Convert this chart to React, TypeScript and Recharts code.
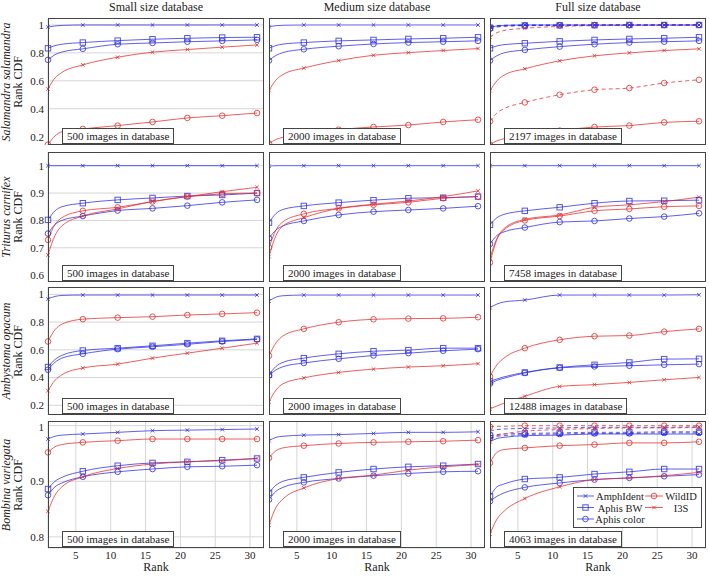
import React from "react";
import { LineChart, Line, XAxis, YAxis, CartesianGrid } from "recharts";

// ---------- data ----------
const ranks = [1, 2, 3, 6, 11, 16, 21, 26, 31];
const markerRanks = [1, 6, 11, 16, 21, 26, 31];
const rankTicks = [5, 10, 15, 20, 25, 30];
const columnTitles = ["Small size database", "Medium size database", "Full size database"];
const speciesNames = ["Salamandra salamandra", "Triturus carnifex", "Ambystoma opacum", "Bombina variegata"];
const dbSizes = [
  [500, 2000, 2197],
  [500, 2000, 7458],
  [500, 2000, 12488],
  [500, 2000, 4063],
];
const yTicksSal = [0.2, 0.4, 0.6, 0.8, 1];
const yTicksTri = [0.6, 0.7, 0.8, 0.9, 1];
const yTicksAmb = [0.2, 0.4, 0.6, 0.8, 1];
const yTicksBom = [0.8, 0.9, 1];

// Salamandra salamandra
const salSmallAmph = [0.985, 0.993, 0.997, 1, 1, 1, 1, 1, 1];
const salSmallBw = [0.833, 0.852, 0.862, 0.874, 0.888, 0.898, 0.905, 0.91, 0.912];
const salSmallCol = [0.75, 0.787, 0.806, 0.829, 0.862, 0.871, 0.88, 0.886, 0.893];
const salSmallWild = [0.143, 0.205, 0.235, 0.255, 0.279, 0.305, 0.334, 0.35, 0.369];
const salSmallI3s = [0.541, 0.62, 0.66, 0.714, 0.769, 0.805, 0.824, 0.841, 0.857];

const salMedAmph = [0.988, 0.995, 0.998, 1, 1, 1, 1, 1, 1];
const salMedBw = [0.833, 0.853, 0.863, 0.874, 0.886, 0.893, 0.9, 0.905, 0.912];
const salMedCol = [0.745, 0.782, 0.802, 0.826, 0.848, 0.864, 0.874, 0.88, 0.886];
const salMedWild = [0.15, 0.18, 0.195, 0.215, 0.25, 0.269, 0.283, 0.305, 0.321];
const salMedI3s = [0.531, 0.605, 0.645, 0.691, 0.745, 0.783, 0.802, 0.817, 0.831];

const salFullAmph = [0.985, 0.993, 0.997, 1, 1, 1, 1, 1, 1];
const salFullBw = [0.833, 0.85, 0.859, 0.869, 0.883, 0.893, 0.9, 0.905, 0.912];
const salFullCol = [0.745, 0.78, 0.8, 0.821, 0.845, 0.862, 0.874, 0.88, 0.886];
const salFullWild = [0.143, 0.17, 0.185, 0.205, 0.243, 0.269, 0.279, 0.302, 0.31];
const salFullI3s = [0.529, 0.6, 0.64, 0.686, 0.743, 0.779, 0.8, 0.817, 0.829];
const salFullAmphD = [0.99, 0.996, 0.998, 1, 1, 1, 1, 1, 1];
const salFullBwD = [0.98, 0.99, 0.994, 0.997, 0.998, 0.999, 1, 1, 1];
const salFullColD = [0.972, 0.985, 0.99, 0.995, 0.997, 0.998, 0.999, 0.999, 1];
const salFullWildD = [0.31, 0.37, 0.4, 0.445, 0.5, 0.536, 0.548, 0.584, 0.607];
const salFullI3sD = [0.912, 0.945, 0.96, 0.976, 0.99, 0.995, 0.997, 0.998, 0.999];

// Triturus carnifex
const triSmallAmph = [1, 1, 1, 1, 1, 1, 1, 1, 1];
const triSmallBw = [0.802, 0.835, 0.85, 0.863, 0.875, 0.882, 0.889, 0.893, 0.9];
const triSmallCol = [0.752, 0.785, 0.8, 0.816, 0.836, 0.844, 0.854, 0.866, 0.875];
const triSmallWild = [0.729, 0.785, 0.81, 0.835, 0.848, 0.869, 0.887, 0.897, 0.9];
const triSmallI3s = [0.674, 0.745, 0.78, 0.816, 0.842, 0.869, 0.887, 0.905, 0.921];

const triMedAmph = [0.998, 1, 1, 1, 1, 1, 1, 1, 1];
const triMedBw = [0.792, 0.825, 0.84, 0.853, 0.865, 0.874, 0.881, 0.883, 0.887];
const triMedCol = [0.735, 0.765, 0.78, 0.798, 0.82, 0.832, 0.838, 0.844, 0.852];
const triMedWild = [0.701, 0.765, 0.795, 0.824, 0.844, 0.857, 0.866, 0.881, 0.887];
const triMedI3s = [0.668, 0.745, 0.78, 0.81, 0.844, 0.859, 0.871, 0.887, 0.908];

const triFullAmph = [1, 1, 1, 1, 1, 1, 1, 1, 1];
const triFullBw = [0.784, 0.81, 0.822, 0.835, 0.848, 0.863, 0.871, 0.872, 0.874];
const triFullCol = [0.714, 0.745, 0.758, 0.774, 0.794, 0.798, 0.807, 0.814, 0.826];
const triFullWild = [0.646, 0.73, 0.765, 0.8, 0.816, 0.835, 0.842, 0.85, 0.853];
const triFullI3s = [0.662, 0.735, 0.77, 0.804, 0.82, 0.848, 0.857, 0.869, 0.885];

// Ambystoma opacum
const ambSmallAmph = [0.967, 0.985, 0.992, 0.995, 0.995, 0.995, 0.995, 0.995, 0.995];
const ambSmallBw = [0.476, 0.53, 0.56, 0.595, 0.612, 0.629, 0.648, 0.665, 0.679];
const ambSmallCol = [0.456, 0.51, 0.54, 0.571, 0.605, 0.622, 0.64, 0.66, 0.675];
const ambSmallWild = [0.66, 0.745, 0.785, 0.821, 0.832, 0.839, 0.851, 0.859, 0.868];
const ambSmallI3s = [0.305, 0.38, 0.42, 0.469, 0.497, 0.54, 0.576, 0.612, 0.648];

const ambMedAmph = [0.952, 0.98, 0.99, 0.995, 0.995, 0.995, 0.995, 0.995, 0.995];
const ambMedBw = [0.42, 0.48, 0.51, 0.54, 0.571, 0.59, 0.598, 0.612, 0.612];
const ambMedCol = [0.415, 0.455, 0.478, 0.505, 0.535, 0.559, 0.576, 0.593, 0.605];
const ambMedWild = [0.557, 0.65, 0.7, 0.751, 0.799, 0.82, 0.825, 0.827, 0.835];
const ambMedI3s = [0.224, 0.31, 0.355, 0.397, 0.437, 0.461, 0.476, 0.485, 0.5];

const ambFullAmph = [0.904, 0.93, 0.945, 0.959, 0.995, 0.995, 0.995, 0.995, 0.997];
const ambFullBw = [0.372, 0.39, 0.405, 0.437, 0.473, 0.492, 0.509, 0.533, 0.535];
const ambFullCol = [0.356, 0.38, 0.395, 0.433, 0.47, 0.48, 0.485, 0.492, 0.497];
const ambFullWild = [0.408, 0.492, 0.54, 0.612, 0.672, 0.698, 0.703, 0.731, 0.751];
const ambFullI3s = [0.174, 0.195, 0.215, 0.265, 0.336, 0.349, 0.365, 0.384, 0.401];

// Bombina variegata
const bomSmallAmph = [0.976, 0.981, 0.983, 0.985, 0.988, 0.991, 0.992, 0.993, 0.994];
const bomSmallBw = [0.886, 0.9, 0.907, 0.918, 0.928, 0.933, 0.935, 0.938, 0.941];
const bomSmallCol = [0.875, 0.89, 0.897, 0.908, 0.917, 0.922, 0.926, 0.927, 0.929];
const bomSmallWild = [0.952, 0.962, 0.966, 0.97, 0.973, 0.976, 0.976, 0.976, 0.976];
const bomSmallI3s = [0.846, 0.875, 0.89, 0.908, 0.923, 0.931, 0.935, 0.937, 0.941];

const bomMedAmph = [0.973, 0.979, 0.981, 0.983, 0.984, 0.986, 0.988, 0.988, 0.989];
const bomMedBw = [0.879, 0.893, 0.9, 0.907, 0.916, 0.922, 0.926, 0.928, 0.931];
const bomMedCol = [0.867, 0.882, 0.889, 0.898, 0.905, 0.91, 0.914, 0.917, 0.918];
const bomMedWild = [0.942, 0.955, 0.96, 0.964, 0.968, 0.97, 0.971, 0.972, 0.974];
const bomMedI3s = [0.821, 0.853, 0.868, 0.888, 0.905, 0.911, 0.92, 0.926, 0.93];

const bomFullAmph = [0.971, 0.977, 0.979, 0.982, 0.983, 0.985, 0.985, 0.985, 0.985];
const bomFullBw = [0.873, 0.89, 0.895, 0.904, 0.907, 0.913, 0.917, 0.922, 0.922];
const bomFullCol = [0.864, 0.873, 0.879, 0.889, 0.897, 0.903, 0.906, 0.909, 0.912];
const bomFullWild = [0.933, 0.952, 0.957, 0.96, 0.964, 0.966, 0.969, 0.969, 0.971];
const bomFullI3s = [0.805, 0.832, 0.846, 0.869, 0.89, 0.903, 0.906, 0.91, 0.916];
const bomFullAmphD = [0.99, 0.993, 0.994, 0.995, 0.996, 0.997, 0.997, 0.997, 0.998];
const bomFullBwD = [0.982, 0.984, 0.985, 0.986, 0.987, 0.988, 0.988, 0.989, 0.989];
const bomFullColD = [0.978, 0.981, 0.982, 0.984, 0.985, 0.986, 0.986, 0.987, 0.987];
const bomFullWildD = [0.998, 0.999, 0.999, 1, 1, 1, 1, 1, 1];
const bomFullI3sD = [0.975, 0.982, 0.985, 0.99, 0.993, 0.995, 0.996, 0.996, 0.997];

// ---------- styling / layout ----------
const BLUE = "#2a2ae6";
const RED = "#e62a2a";
const FONT = "Liberation Serif, Times New Roman, Times, Tinos, DejaVu Serif, Noto Serif, FreeSerif, serif";
const FS = 10.5;
const PLOT_LEFT = [48, 269, 490];
const PLOT_W = 216;
const PLOT_TOP = [18, 152, 287, 421];
const PLOT_H = [127, 130, 128, 127];
const Y_DOMAINS: [number, number][] = [
  [0.14, 1.05],
  [0.575, 1.05],
  [0.13, 1.053],
  [0.78, 1.0084],
];
const Y_TICKS = [yTicksSal, yTicksTri, yTicksAmb, yTicksBom];

type Method = { key: string; name: string; color: string; marker: "x" | "square" | "circle" };
const methods: Method[] = [
  { key: "amph", name: "AmphIdent", color: BLUE, marker: "x" },
  { key: "bw", name: "Aphis BW", color: BLUE, marker: "square" },
  { key: "col", name: "Aphis color", color: BLUE, marker: "circle" },
  { key: "wild", name: "WildID", color: RED, marker: "circle" },
  { key: "i3s", name: "I3S", color: RED, marker: "x" },
];

const panels: Record<string, number[]>[][] = [
  [
    { amph: salSmallAmph, bw: salSmallBw, col: salSmallCol, wild: salSmallWild, i3s: salSmallI3s },
    { amph: salMedAmph, bw: salMedBw, col: salMedCol, wild: salMedWild, i3s: salMedI3s },
    {
      amph: salFullAmph, bw: salFullBw, col: salFullCol, wild: salFullWild, i3s: salFullI3s,
      amphD: salFullAmphD, bwD: salFullBwD, colD: salFullColD, wildD: salFullWildD, i3sD: salFullI3sD,
    },
  ],
  [
    { amph: triSmallAmph, bw: triSmallBw, col: triSmallCol, wild: triSmallWild, i3s: triSmallI3s },
    { amph: triMedAmph, bw: triMedBw, col: triMedCol, wild: triMedWild, i3s: triMedI3s },
    { amph: triFullAmph, bw: triFullBw, col: triFullCol, wild: triFullWild, i3s: triFullI3s },
  ],
  [
    { amph: ambSmallAmph, bw: ambSmallBw, col: ambSmallCol, wild: ambSmallWild, i3s: ambSmallI3s },
    { amph: ambMedAmph, bw: ambMedBw, col: ambMedCol, wild: ambMedWild, i3s: ambMedI3s },
    { amph: ambFullAmph, bw: ambFullBw, col: ambFullCol, wild: ambFullWild, i3s: ambFullI3s },
  ],
  [
    { amph: bomSmallAmph, bw: bomSmallBw, col: bomSmallCol, wild: bomSmallWild, i3s: bomSmallI3s },
    { amph: bomMedAmph, bw: bomMedBw, col: bomMedCol, wild: bomMedWild, i3s: bomMedI3s },
    {
      amph: bomFullAmph, bw: bomFullBw, col: bomFullCol, wild: bomFullWild, i3s: bomFullI3s,
      amphD: bomFullAmphD, bwD: bomFullBwD, colD: bomFullColD, wildD: bomFullWildD, i3sD: bomFullI3sD,
    },
  ],
];

function Marker({ x, y, marker, color }: { x: number; y: number; marker: string; color: string }) {
  if (marker === "x") {
    const s = 1.8;
    return (
      <g stroke={color} strokeWidth={1} strokeOpacity={0.8}>
        <line x1={x - s} y1={y - s} x2={x + s} y2={y + s} />
        <line x1={x - s} y1={y + s} x2={x + s} y2={y - s} />
      </g>
    );
  }
  if (marker === "square") {
    return <rect x={x - 2.7} y={y - 2.7} width={5.4} height={5.4} fill="none" stroke={color} strokeWidth={1} strokeOpacity={0.8} />;
  }
  return <circle cx={x} cy={y} r={2.8} fill="none" stroke={color} strokeWidth={1} strokeOpacity={0.8} />;
}

const makeDot = (marker: string, color: string) => (props: any) => {
  const { cx, cy, payload, index } = props;
  if (cx == null || cy == null || !markerRanks.includes(payload.rank)) return <g key={`n${index}`} />;
  return (
    <g key={`d${index}`}>
      <Marker x={cx} y={cy} marker={marker} color={color} />
    </g>
  );
};

const fmt = (v: number) => (v === 1 ? "1" : String(v));

function Panel({ r, c }: { r: number; c: number }) {
  const series = panels[r][c];
  const yw = c === 0 ? 48 : 0;
  const xh = r === 3 ? 20 : 0;
  const W = PLOT_W + yw;
  const H = PLOT_H[r] + xh;
  const data = ranks.map((rank, i) => {
    const o: Record<string, number> = { rank };
    Object.keys(series).forEach((k) => (o[k] = series[k][i]));
    return o;
  });
  const hasDashed = "amphD" in series;
  const lines: React.ReactNode[] = [];
  if (hasDashed) {
    methods.forEach((m) =>
      lines.push(
        <Line
          key={m.key + "D"}
          type="monotone"
          dataKey={m.key + "D"}
          stroke={m.color}
          strokeOpacity={0.75}
          strokeWidth={1}
          strokeDasharray="4 3"
          dot={makeDot(m.marker, m.color)}
          activeDot={false}
          isAnimationActive={false}
        />
      )
    );
  }
  methods.forEach((m) =>
    lines.push(
      <Line
        key={m.key}
        type="monotone"
        dataKey={m.key}
        stroke={m.color}
        strokeOpacity={0.75}
        strokeWidth={1}
        dot={makeDot(m.marker, m.color)}
        activeDot={false}
        isAnimationActive={false}
      />
    )
  );
  const tickStyle = { fontFamily: FONT, fontSize: 11, fill: "#222" };
  return (
    <div style={{ position: "absolute", left: PLOT_LEFT[c] - yw, top: PLOT_TOP[r], width: W, height: H }}>
      <LineChart width={W} height={H} data={data} margin={{ top: 0, right: 0, bottom: 0, left: 0 }}>
        <CartesianGrid stroke="#d6d6d6" strokeWidth={1} />
        <XAxis
          dataKey="rank"
          type="number"
          domain={[1, 32]}
          ticks={rankTicks}
          height={xh}
          tick={r === 3 ? tickStyle : false}
          axisLine={false}
          tickLine={false}
          tickSize={3}
          tickMargin={0}
        />
        <YAxis
          type="number"
          domain={Y_DOMAINS[r]}
          ticks={Y_TICKS[r]}
          width={yw}
          tick={c === 0 ? tickStyle : false}
          tickFormatter={fmt}
          axisLine={false}
          tickLine={false}
          tickSize={3}
          tickMargin={1}
        />
        {lines}
      </LineChart>
      <div
        style={{
          position: "absolute",
          left: yw,
          top: 0,
          width: PLOT_W,
          height: PLOT_H[r],
          border: "1px solid #444",
          boxSizing: "border-box",
          pointerEvents: "none",
        }}
      />
      <div
        style={{
          position: "absolute",
          left: yw + 14,
          top: PLOT_H[r] - 17,
          height: 16,
          padding: "0 4px",
          border: "1px solid #444",
          background: "#fff",
          boxSizing: "border-box",
          fontFamily: FONT,
          fontSize: FS + 0.5,
          lineHeight: "14px",
          color: "#222",
          whiteSpace: "nowrap",
        }}
      >
        {dbSizes[r][c]} images in database
      </div>
    </div>
  );
}

function Legend() {
  const rowsY = [9, 20.5, 32];
  const left = methods.slice(0, 3);
  const right = methods.slice(3);
  return (
    <div
      style={{
        position: "absolute",
        left: 573,
        top: 487,
        width: 129,
        height: 41,
        border: "1px solid #444",
        background: "#fff",
        boxSizing: "border-box",
      }}
    >
      <svg width={127} height={39} style={{ position: "absolute", left: 0, top: 0 }}>
        {left.map((m, i) => (
          <g key={m.key}>
            <line x1={3} x2={20} y1={rowsY[i] - 1} y2={rowsY[i] - 1} stroke={m.color} strokeOpacity={0.75} />
            <Marker x={11.5} y={rowsY[i] - 1} marker={m.marker} color={m.color} />
            <text x={46} y={rowsY[i] + 3} textAnchor="middle" fontFamily={FONT} fontSize={FS} fill="#222">
              {m.name}
            </text>
          </g>
        ))}
        {right.map((m, i) => (
          <g key={m.key}>
            <line x1={71} x2={89} y1={rowsY[i] - 1} y2={rowsY[i] - 1} stroke={m.color} strokeOpacity={0.75} />
            <Marker x={80} y={rowsY[i] - 1} marker={m.marker} color={m.color} />
            <text x={107} y={rowsY[i] + 3} textAnchor="middle" fontFamily={FONT} fontSize={FS} fill="#222">
              {m.name}
            </text>
          </g>
        ))}
      </svg>
    </div>
  );
}

export default function App() {
  return (
    <div
      style={{
        position: "absolute",
        left: 0,
        top: 0,
        width: 709,
        height: 576,
        background: "#fff",
        fontFamily: FONT,
        color: "#222",
        overflow: "hidden",
      }}
    >
      {columnTitles.map((t, c) => (
        <div
          key={t}
          style={{
            position: "absolute",
            left: PLOT_LEFT[c],
            width: PLOT_W,
            top: 0,
            textAlign: "center",
            fontSize: 12,
            lineHeight: "14px",
          }}
        >
          {t}
        </div>
      ))}
      {speciesNames.map((s, r) => (
        <div
          key={s}
          style={{
            position: "absolute",
            left: 12,
            top: PLOT_TOP[r] + PLOT_H[r] / 2,
            transform: "translate(-50%, -50%) rotate(-90deg)",
            whiteSpace: "nowrap",
            textAlign: "center",
            fontSize: 12,
            lineHeight: "12px",
          }}
        >
          <div style={{ fontStyle: "italic" }}>{s}</div>
          <div>Rank CDF</div>
        </div>
      ))}
      {[0, 1, 2, 3].map((r) => [0, 1, 2].map((c) => <Panel key={`${r}-${c}`} r={r} c={c} />))}
      {columnTitles.map((t, c) => (
        <div
          key={"rank" + c}
          style={{
            position: "absolute",
            left: PLOT_LEFT[c],
            width: PLOT_W,
            top: 560,
            textAlign: "center",
            fontSize: 12,
            lineHeight: "14px",
          }}
        >
          Rank
        </div>
      ))}
      <Legend />
    </div>
  );
}
